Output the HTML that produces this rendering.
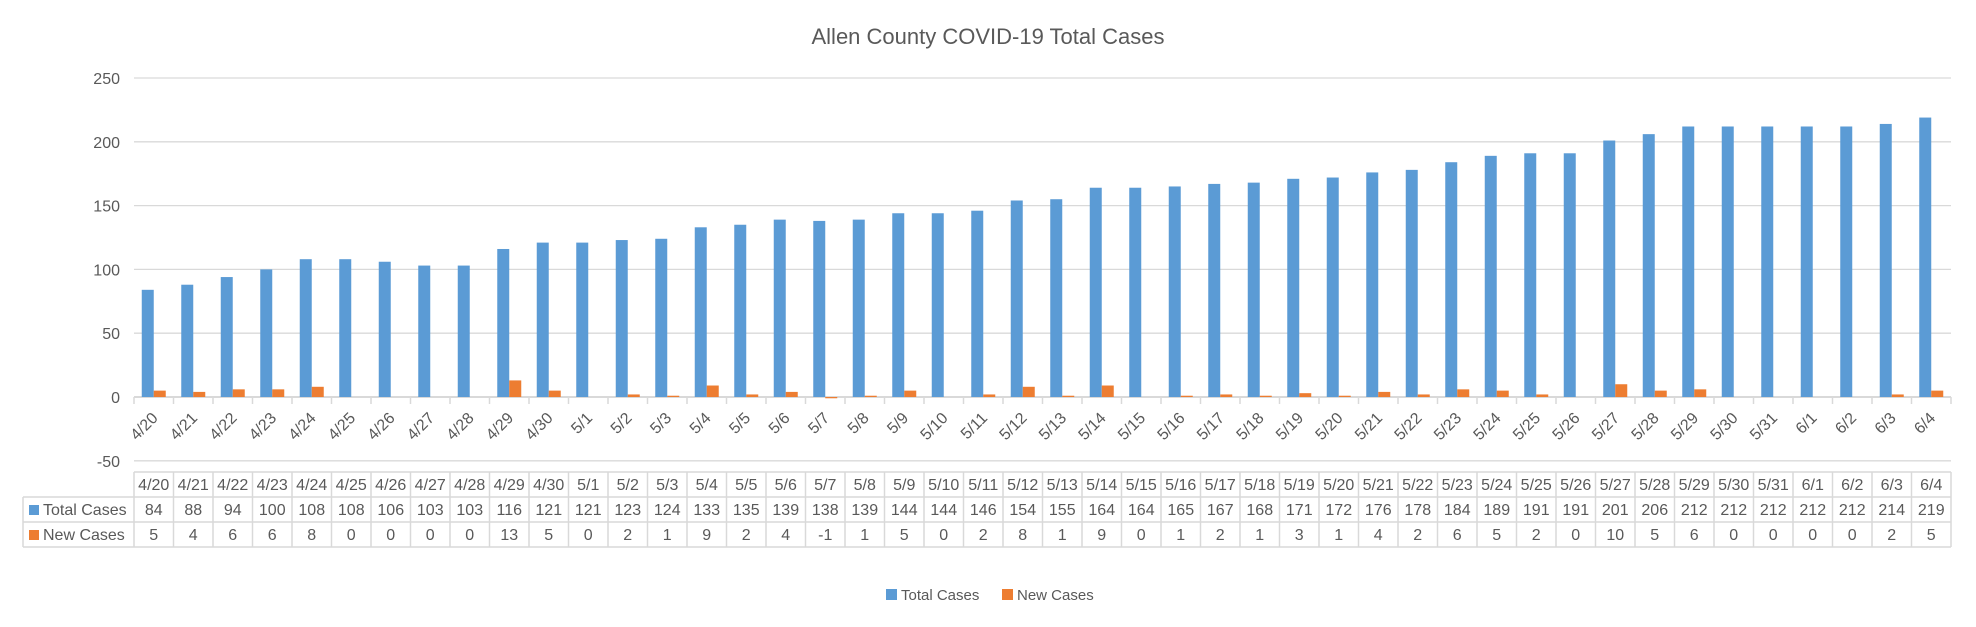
<!DOCTYPE html>
<html><head><meta charset="utf-8"><style>
html,body{margin:0;padding:0;background:#fff;}
svg{display:block;font-family:"Liberation Sans",Arial,sans-serif;}
</style></head><body>
<svg id="c" width="1976" height="627" viewBox="0 0 1976 627" xmlns="http://www.w3.org/2000/svg">
<text x="988" y="44" text-anchor="middle" font-size="22" fill="#595959">Allen County COVID-19 Total Cases</text>
<g id="grid"></g><g id="bars"></g><g id="xl"></g><g id="tbl"></g>
<g>
<rect x="886" y="589" width="11" height="11" fill="#5b9bd5"/>
<text x="901" y="600" font-size="15" fill="#595959">Total Cases</text>
<rect x="1002" y="589" width="11" height="11" fill="#ed7d31"/>
<text x="1017" y="600" font-size="15" fill="#595959">New Cases</text>
</g>
</svg>
<script>
const categories=["4/20","4/21","4/22","4/23","4/24","4/25","4/26","4/27","4/28","4/29","4/30","5/1","5/2","5/3","5/4","5/5","5/6","5/7","5/8","5/9","5/10","5/11","5/12","5/13","5/14","5/15","5/16","5/17","5/18","5/19","5/20","5/21","5/22","5/23","5/24","5/25","5/26","5/27","5/28","5/29","5/30","5/31","6/1","6/2","6/3","6/4"];
const totalCases=[84,88,94,100,108,108,106,103,103,116,121,121,123,124,133,135,139,138,139,144,144,146,154,155,164,164,165,167,168,171,172,176,178,184,189,191,191,201,206,212,212,212,212,212,214,219];
const newCases=[5,4,6,6,8,0,0,0,0,13,5,0,2,1,9,2,4,-1,1,5,0,2,8,1,9,0,1,2,1,3,1,4,2,6,5,2,0,10,5,6,0,0,0,0,2,5];
const yTicks=[-50,0,50,100,150,200,250];
const NS="http://www.w3.org/2000/svg";
const L=134,R=1951,Y0=397,PX=(397-78)/250;
const cw=(R-L)/categories.length, bw=12;
const y=v=>Y0-v*PX, xc=i=>L+cw*(i+0.5);
function mk(t,a,p){const e=document.createElementNS(NS,t);for(const k in a)e.setAttribute(k,a[k]);(p||document.getElementById('c')).appendChild(e);return e;}
const G=document.getElementById('grid'),B=document.getElementById('bars'),X=document.getElementById('xl'),T=document.getElementById('tbl');
yTicks.forEach(v=>{
 const l=mk('line',{x1:L,x2:R,y1:y(v),y2:y(v),stroke:'#d9d9d9','stroke-width':v===0?2:1.3},G);
 
 
 const t=mk('text',{x:L-14,y:y(v)+6,'text-anchor':'end','font-size':16,fill:'#595959'},G);
 t.textContent=v;
 
 
});
for(let i=0;i<=categories.length;i++){
 const tk=mk('line',{x1:L+cw*i,x2:L+cw*i,y1:Y0,y2:Y0+7,stroke:'#d9d9d9','stroke-width':1.5},G);
 
 
}
categories.forEach((c,i)=>{
 const cx=xc(i);
 const tv=totalCases[i];
 const b=mk('rect',{x:cx-bw,y:Math.min(y(tv),Y0),width:bw,height:Math.abs(y(tv)-Y0),fill:'#5b9bd5'},B);
 
 
 const nv=newCases[i];
 const o=mk('rect',{x:cx,y:Math.min(y(nv),Y0),width:bw,height:Math.abs(y(nv)-Y0),fill:'#ed7d31'},B);
 
 
 const t=mk('text',{x:cx+5,y:Y0+22,'text-anchor':'end','font-size':16,fill:'#595959',transform:`rotate(-45 ${cx+5} ${Y0+22})`},X);
 t.textContent=c;
 
 
});
const r0=472,r1=497,r2=522,r3=547,tl=23,st='#d9d9d9';
[[L,R,r0],[tl,R,r1],[tl,R,r2],[tl,R,r3]].forEach(a=>{const l=mk('line',{x1:a[0],x2:a[1],y1:a[2],y2:a[2],stroke:st,'stroke-width':1.5},T);});
const lv=mk('line',{x1:tl,x2:tl,y1:r1,y2:r3,stroke:st,'stroke-width':1.5},T);


for(let i=0;i<=categories.length;i++){
 const l=mk('line',{x1:L+cw*i,x2:L+cw*i,y1:r0,y2:r3,stroke:st,'stroke-width':1.5},T);
 
 
}
[['#5b9bd5','Total Cases',r1],['#ed7d31','New Cases',r2]].forEach(a=>{
 const s=mk('rect',{x:tl+6,y:a[2]+8,width:10,height:10,fill:a[0]},T);
 
 
 const t=mk('text',{x:tl+20,y:a[2]+18,'font-size':16,fill:'#595959'},T);
 t.textContent=a[1];
 
 
});
categories.forEach((c,i)=>{
 [[c,r0],[totalCases[i],r1],[newCases[i],r2]].forEach(a=>{
  const t=mk('text',{x:xc(i),y:a[1]+18,'text-anchor':'middle','font-size':16,fill:'#595959'},T);
  t.textContent=a[0];
  
  
 });
});
</script>
</body></html>
